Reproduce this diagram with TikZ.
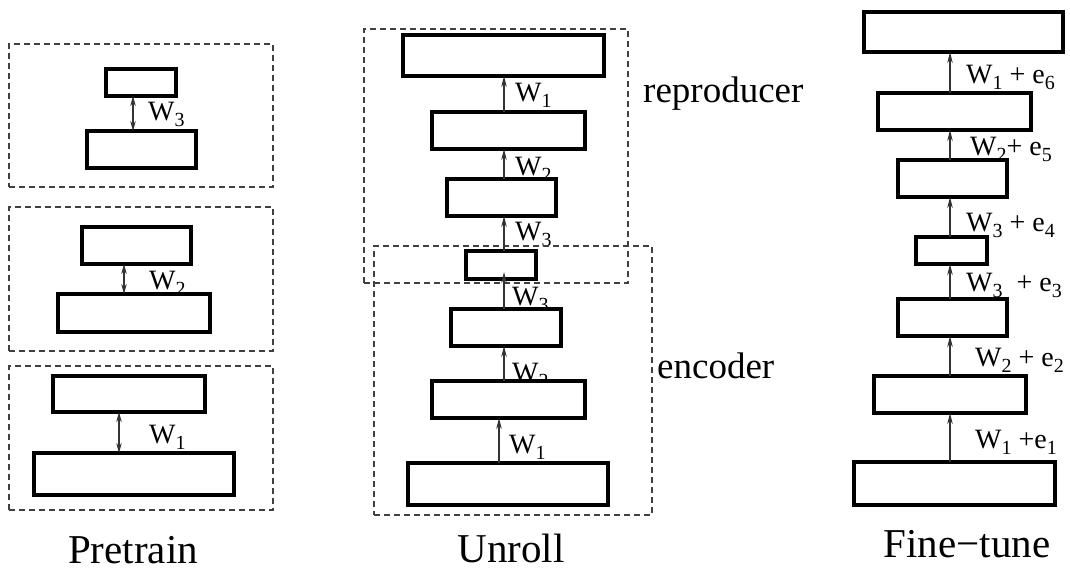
\documentclass[tikz,border=0pt]{standalone}
\usepackage{fontspec}
\setmainfont{Liberation Serif}
\usetikzlibrary{arrows.meta}
\newcommand{\ws}[2]{#1\raisebox{-6.5pt}{\fontsize{20}{20}\selectfont #2}}
\newcommand{\bx}[6]{\node[#1, minimum width={#5-#3}, minimum height={#6-#4}] (#2) at ({(#3+#5)/2},{(#4+#6)/2}) {};}
\tikzset{
  layerbox/.style={draw=black, fill=white, line width=3.3pt, inner sep=0pt, outer sep=0pt},
  dbox/.style={draw=black!75, line width=1.3pt, dash pattern=on 6pt off 4pt, inner sep=0pt, outer sep=0pt},
  arr/.style={draw=black!80, line width=1.2pt, -{Stealth[length=11pt,width=5.5pt]}},
  darr/.style={draw=black!80, line width=1.2pt, {Stealth[length=10pt,width=5.5pt]}-{Stealth[length=10pt,width=5.5pt]}},
  lab/.style={anchor=base west, inner sep=0pt, font=\fontsize{28}{32}\selectfont},
  biglab/.style={anchor=base, inner sep=0pt, font=\fontsize{41}{48}\selectfont},
  sidelab/.style={anchor=base west, inner sep=0pt, font=\fontsize{37}{44}\selectfont}
}
\begin{document}
\begin{tikzpicture}[x=1pt,y=-1pt]
\useasboundingbox (0,0) rectangle (1070,570);
% ---------------- labels (drawn first, boxes cover them) ----------------
\node[lab] (pl3) at (148,120) {\ws{W}{3}};
\node[lab] (pl2) at (149,289) {\ws{W}{2}};
\node[lab] (pl1) at (149,443) {\ws{W}{1}};
\node[lab] (ul1a) at (515,101) {\ws{W}{1}};
\node[lab] (ul2a) at (515,175) {\ws{W}{2}};
\node[lab] (ul3a) at (515,240) {\ws{W}{3}};
\node[lab] (ul3b) at (512,305) {\ws{W}{3}};
\node[lab] (ul2b) at (512,381) {\ws{W}{2}};
\node[lab] (ul1b) at (509,453) {\ws{W}{1}};
\node[lab] (fl6) at (966,83) {\ws{W}{1} + \ws{e}{6}};
\node[lab] (fl5) at (970,155) {\ws{W}{2}+ \ws{e}{5}};
\node[lab] (fl4) at (966,231) {\ws{W}{3} + \ws{e}{4}};
\node[lab] (fl3) at (966,291) {\ws{W}{3}\ \ + \ws{e}{3}};
\node[lab] (fl2) at (975,366) {\ws{W}{2} + \ws{e}{2}};
\node[lab] (fl1) at (975,448) {\ws{W}{1} +\ws{e}{1}};
\node[biglab] (tpre) at (133,563) {Pretrain};
\node[biglab] (tunr) at (511,562) {Unroll};
\node[biglab] (tfin) at (967,557) {Fine−tune};
\node[sidelab] (trep) at (643,102) {reproducer};
\node[sidelab] (tenc) at (657,378) {encoder};
% ---------------- dashed groups ----------------
\bx{dbox}{pd1}{9}{44}{273}{187}
\bx{dbox}{pd2}{9}{207}{273}{351}
\bx{dbox}{pd3}{9}{366}{273}{510}
\bx{dbox}{urep}{364}{29}{628}{283}
\bx{dbox}{uenc}{374}{246}{652}{515}
% ---------------- Pretrain boxes ----------------
\bx{layerbox}{pa1}{106}{69}{176}{96}
\bx{layerbox}{pa0}{87}{131}{196}{168}
\bx{layerbox}{pb1}{82}{227}{191}{264}
\bx{layerbox}{pb0}{58}{294}{210}{332}
\bx{layerbox}{pc1}{53}{376}{205}{412}
\bx{layerbox}{pc0}{34}{453}{234}{495}
% ---------------- Unroll boxes ----------------
\bx{layerbox}{u1}{403}{35}{604}{76}
\bx{layerbox}{u2}{432}{112}{585}{149}
\bx{layerbox}{u3}{447}{179}{556}{216}
\bx{layerbox}{u4}{466}{251}{536}{279}
\bx{layerbox}{u5}{451}{309}{561}{346}
\bx{layerbox}{u6}{432}{381}{585}{418}
\bx{layerbox}{u7}{408}{463}{608}{505}
% ---------------- Fine-tune boxes ----------------
\bx{layerbox}{f1}{864}{12}{1063}{52}
\bx{layerbox}{f2}{878}{93}{1031}{130}
\bx{layerbox}{f3}{898}{160}{1007}{197}
\bx{layerbox}{f4}{916}{237}{987}{264}
\bx{layerbox}{f5}{898}{299}{1007}{336}
\bx{layerbox}{f6}{874}{376}{1026}{413}
\bx{layerbox}{f7}{854}{462}{1055}{505}
% ---------------- arrow columns ----------------
\coordinate (px1) at (133,0);
\coordinate (px2) at (124,0);
\coordinate (px3) at (119,0);
\coordinate (ux) at (504,0);
\coordinate (uxb) at (499,0);
\coordinate (fx) at (950,0);
% Pretrain arrows
\draw[darr] (px1 |- pa0.north) -- (px1 |- pa1.south);
\draw[darr] (px2 |- pb0.north) -- (px2 |- pb1.south);
\draw[darr] (px3 |- pc0.north) -- (px3 |- pc1.south);
% Unroll arrows
\draw[arr] (ux |- u2.north) -- (ux |- u1.south);
\draw[arr] (ux |- u3.north) -- (ux |- u2.south);
\draw[arr] (ux |- u4.north) -- (ux |- u3.south);
\draw[arr] (ux |- u5.north) -- ([yshift=7pt]ux |- u4.south);
\draw[arr] (ux |- u6.north) -- (ux |- u5.south);
\draw[arr] (uxb |- u7.north) -- (uxb |- u6.south);
% Fine-tune arrows
\draw[arr] (fx |- f2.north) -- (fx |- f1.south);
\draw[arr] (fx |- f3.north) -- (fx |- f2.south);
\draw[arr] (fx |- f4.north) -- (fx |- f3.south);
\draw[arr] (fx |- f5.north) -- (fx |- f4.south);
\draw[arr] (fx |- f6.north) -- (fx |- f5.south);
\draw[arr] (fx |- f7.north) -- (fx |- f6.south);
\end{tikzpicture}
\end{document}
